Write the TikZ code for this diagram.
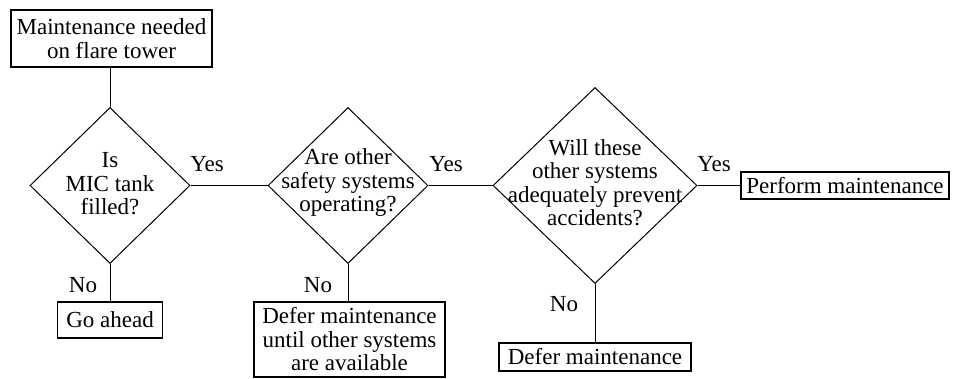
\documentclass[tikz,border=0pt]{standalone}
\usepackage{fontspec}
\setmainfont{Liberation Serif}
\usetikzlibrary{shapes.geometric}
\begin{document}
\begin{tikzpicture}[x=1pt,y=-1pt,
  basefont/.style={font=\fontsize{23}{23.5}\selectfont, text=black},
  box/.style={basefont, draw, line width=1.1pt, inner sep=0pt, align=center},
  dia/.style={draw, diamond, line width=1pt, inner sep=0pt},
  dtext/.style={basefont, align=center, inner sep=0pt},
  lab/.style={basefont, anchor=base, inner sep=0pt},
  conn/.style={line width=1pt}]
\useasboundingbox (0,0) rectangle (958,379);
% boxes
\node[box, minimum width=201pt, minimum height=57pt] (top) at (111.5,38.5) {Maintenance needed\\on flare tower};
\node[box, minimum width=105pt, minimum height=36pt] (go) at (110,320) {Go ahead};
\node[box, minimum width=191pt, minimum height=75pt] (until) at (349.5,339.5) {Defer maintenance\\until other systems\\are available};
\node[box, minimum width=192pt, minimum height=28pt] (defer) at (595,357) {Defer maintenance};
\node[box, minimum width=208pt, minimum height=27pt] (perform) at (845,185.5) {Perform maintenance};
% diamonds
\node[dia, minimum width=160pt, minimum height=156pt] (d1) at (110,185.5) {};
\node[dia, minimum width=160pt, minimum height=156pt] (d2) at (348,185.5) {};
\node[dia, minimum width=204pt, minimum height=196pt] (d3) at (595,185.5) {};
\node[dtext] (t1) at (110,184) {Is\\MIC tank\\filled?};
\node[dtext] (t2) at (348,183) {Are other\\safety systems\\operating?};
\node[dtext] (t3) at (595,182.5) {Will these\\other systems\\adequately prevent\\accidents?};
% connectors
\draw[conn] (top.south -| d1.north) -- (d1.north);
\draw[conn] (d1.east) -- (d2.west);
\draw[conn] (d2.east) -- (d3.west);
\draw[conn] (d3.east) -- (perform.west);
\draw[conn] (d1.south) -- (go.north);
\draw[conn] (d2.south) -- (d2.south |- until.north);
\draw[conn] (d3.south) -- (defer.north);
% labels
\node[lab] (y1) at (207,172) {Yes};
\node[lab] (y2) at (446,172) {Yes};
\node[lab] (y3) at (714,172) {Yes};
\node[lab] (n1) at (83,292) {No};
\node[lab] (n2) at (318,292) {No};
\node[lab] (n3) at (564,312) {No};
\end{tikzpicture}
\end{document}
